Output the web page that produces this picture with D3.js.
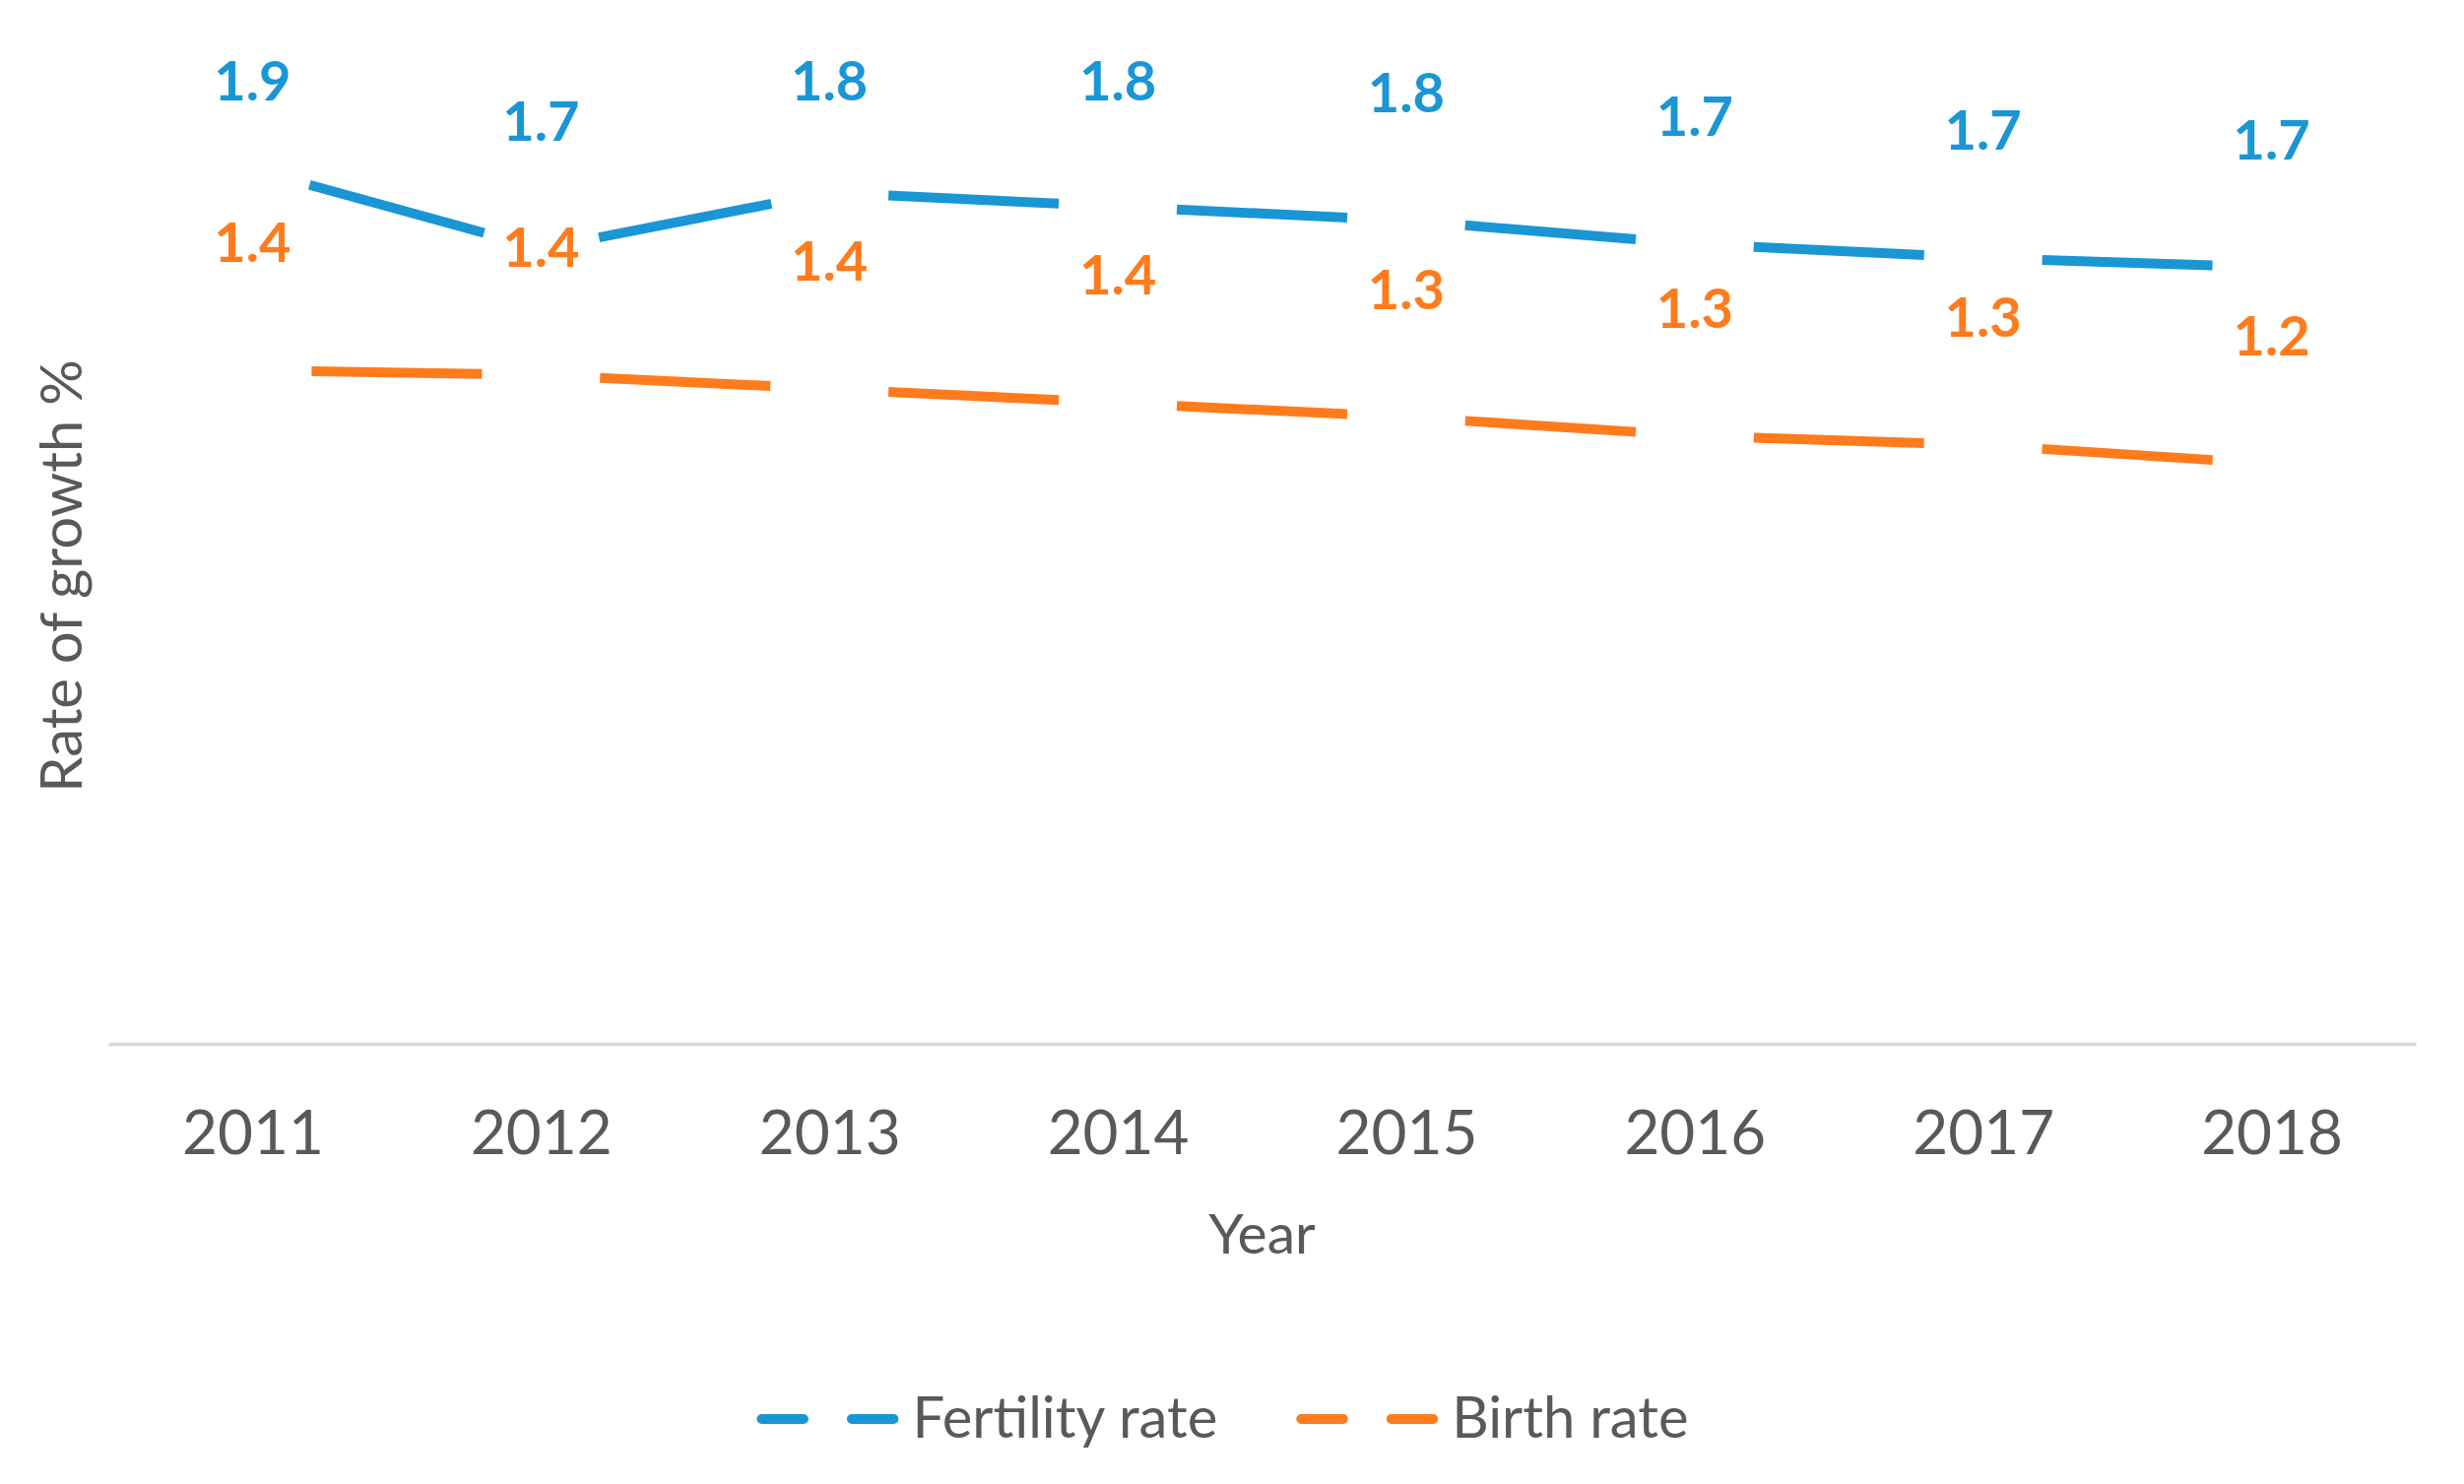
<!DOCTYPE html>
<html>
<head>
<meta charset="utf-8">
<script src="https://cdn.jsdelivr.net/npm/d3@7"></script>
<style>
  body { margin: 0; background: #fff; }
  text { font-family: Lato, "Open Sans", sans-serif; }
</style>
</head>
<body>
<div id="chart"></div>
<script>
const years = ["2011", "2012", "2013", "2014", "2015", "2016", "2017", "2018"];
const fertilityRate = [1.87, 1.70, 1.82, 1.79, 1.76, 1.71, 1.68, 1.66];
const birthRate = [1.44, 1.43, 1.40, 1.37, 1.34, 1.30, 1.28, 1.24];
const seriesNames = ["Fertility rate", "Birth rate"];
const seriesColors = ["#1a96d5", "#ff7b1c"];

const width = 2502,
  height = 1507,
  left = 110,
  right = 2453,
  baseY = 1060,
  topY = 110;

const svg = d3.select("#chart").append("svg")
  .attr("width", width)
  .attr("height", height);

svg.append("rect")
  .attr("width", width)
  .attr("height", height)
  .attr("fill", "#fff");

const x = d3.scalePoint()
  .domain(years)
  .range([left, right])
  .padding(0.5);

const y = d3.scaleLinear()
  .domain([0, 2])
  .range([baseY, topY]);

const fmt = d3.format(".1f");

// x axis, no ticks, just the light baseline
const xAxis = svg.append("g")
  .attr("transform", `translate(0,${baseY})`)
  .call(d3.axisBottom(x).tickSize(0).tickSizeOuter(0));

xAxis.select(".domain")
  .attr("stroke", "#d9d9d9")
  .attr("stroke-width", 3.5);

xAxis.selectAll("text")
  .attr("y", 112)
  .attr("dy", 0)
  .attr("fill", "#595959")
  .style("font-size", "62px");

svg.append("text")
  .attr("x", (left + right) / 2)
  .attr("y", 1273)
  .attr("text-anchor", "middle")
  .attr("fill", "#595959")
  .style("font-size", "57px")
  .text("Year");

svg.append("text")
  .attr("transform", "translate(83,585) rotate(-90)")
  .attr("text-anchor", "middle")
  .attr("fill", "#595959")
  .style("font-size", "58px")
  .text("Rate of growth %");

const series = [fertilityRate, birthRate];
const gapEnd = 60;      // space left blank around every point
const labelLift = 130,
  labelTop = 82;

series.forEach((values, s) => {
  const pts = values.map((v, i) => [x(years[i]), y(v)]);

  // one dash per segment, centred between two points
  for (let i = 0; i < pts.length - 1; i++) {
    const [x0, y0] = pts[i],
      [x1, y1] = pts[i + 1];
    const len = Math.hypot(x1 - x0, y1 - y0);
    const ux = (x1 - x0) / len,
      uy = (y1 - y0) / len;
    svg.append("line")
      .attr("x1", x0 + ux * gapEnd)
      .attr("y1", y0 + uy * gapEnd)
      .attr("x2", x1 - ux * gapEnd)
      .attr("y2", y1 - uy * gapEnd)
      .attr("stroke", seriesColors[s])
      .attr("stroke-width", 10);
  }

  svg.selectAll(".lbl" + s)
    .data(values)
    .enter().append("text")
    .attr("class", "lbl" + s)
    .attr("x", (d, i) => x(years[i]))
    .attr("y", d => Math.max(y(d) - labelLift, labelTop) + 20)
    .attr("text-anchor", "middle")
    .attr("fill", seriesColors[s])
    .style("font-size", "56px")
    .style("font-weight", "bold")
    .text(d => fmt(d));
});

// legend
const legendY = 1441;
const legend = svg.append("g");
let cursor = 0;
seriesNames.forEach((name, s) => {
  const item = legend.append("g").attr("transform", `translate(${cursor},0)`);
  item.append("line")
    .attr("x1", 5)
    .attr("x2", 139)
    .attr("y1", legendY)
    .attr("y2", legendY)
    .attr("stroke", seriesColors[s])
    .attr("stroke-width", 10)
    .attr("stroke-linecap", "round")
    .attr("stroke-dasharray", "42.5,49");
  const t = item.append("text")
    .attr("x", 158)
    .attr("y", 1460)
    .attr("fill", "#595959")
    .style("font-size", "58px")
    .text(name);
  cursor += 158 + t.node().getComputedTextLength() + 80;
});
const legendW = cursor - 80;
legend.attr("transform", `translate(${1241.5 - legendW / 2},0)`);
</script>
</body>
</html>
